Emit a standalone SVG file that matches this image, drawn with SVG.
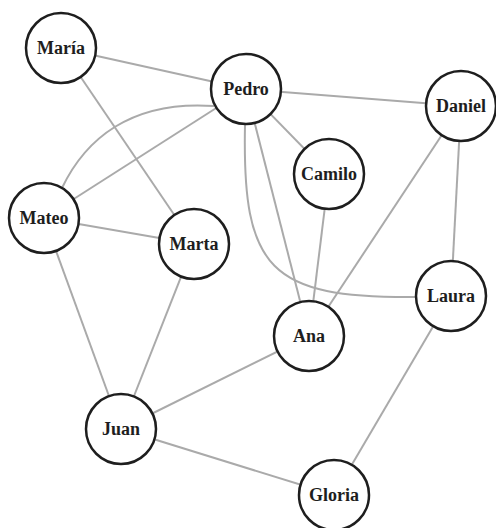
<svg xmlns="http://www.w3.org/2000/svg" width="496" height="528" viewBox="0 0 496 528">
<style>
.e{stroke:#aaaaaa;stroke-width:2;fill:none}
.n circle{fill:#fff;stroke:#1e1e1e;stroke-width:2.5}
.n text{font-family:"Liberation Serif","Times New Roman",serif;font-weight:bold;font-size:18px;fill:#1e1e1e;text-anchor:middle;dominant-baseline:central}
</style>
<rect width="496" height="528" fill="#fff"/>
<g id="connectors">
<line class="e" x1="61" y1="48" x2="246" y2="89"/>
<line class="e" x1="61" y1="48" x2="194" y2="244"/>
<line class="e" x1="246" y1="89" x2="461" y2="106"/>
<line class="e" x1="246" y1="89" x2="329" y2="174"/>
<line class="e" x1="246" y1="89" x2="44" y2="218"/>
<path class="e" d="M62,188 C85,140 130,100 214,106"/>
<line class="e" x1="246" y1="89" x2="309" y2="336"/>
<path class="e" d="M245,125 C242,270 270,298 415,297"/>
<line class="e" x1="461" y1="106" x2="309" y2="336"/>
<line class="e" x1="461" y1="106" x2="451" y2="296"/>
<line class="e" x1="329" y1="174" x2="309" y2="336"/>
<line class="e" x1="44" y1="218" x2="194" y2="244"/>
<line class="e" x1="44" y1="218" x2="121" y2="429"/>
<line class="e" x1="194" y1="244" x2="121" y2="429"/>
<line class="e" x1="309" y1="336" x2="121" y2="429"/>
<line class="e" x1="121" y1="429" x2="334" y2="495"/>
<line class="e" x1="451" y1="296" x2="334" y2="495"/>
</g>
<g id="maria" class="n"><circle cx="61" cy="48" r="35"/><text x="61" y="48">María</text></g>
<g id="pedro" class="n"><circle cx="246" cy="89" r="35"/><text x="246" y="89">Pedro</text></g>
<g id="daniel" class="n"><circle cx="461" cy="106" r="35"/><text x="461" y="106">Daniel</text></g>
<g id="camilo" class="n"><circle cx="329" cy="174" r="35"/><text x="329" y="174">Camilo</text></g>
<g id="mateo" class="n"><circle cx="44" cy="218" r="35"/><text x="44" y="218">Mateo</text></g>
<g id="marta" class="n"><circle cx="194" cy="244" r="35"/><text x="194" y="244">Marta</text></g>
<g id="laura" class="n"><circle cx="451" cy="296" r="35"/><text x="451" y="296">Laura</text></g>
<g id="ana" class="n"><circle cx="309" cy="336" r="35"/><text x="309" y="336">Ana</text></g>
<g id="juan" class="n"><circle cx="121" cy="429" r="35"/><text x="121" y="429">Juan</text></g>
<g id="gloria" class="n"><circle cx="334" cy="495" r="35"/><text x="334" y="495">Gloria</text></g>
</svg>
